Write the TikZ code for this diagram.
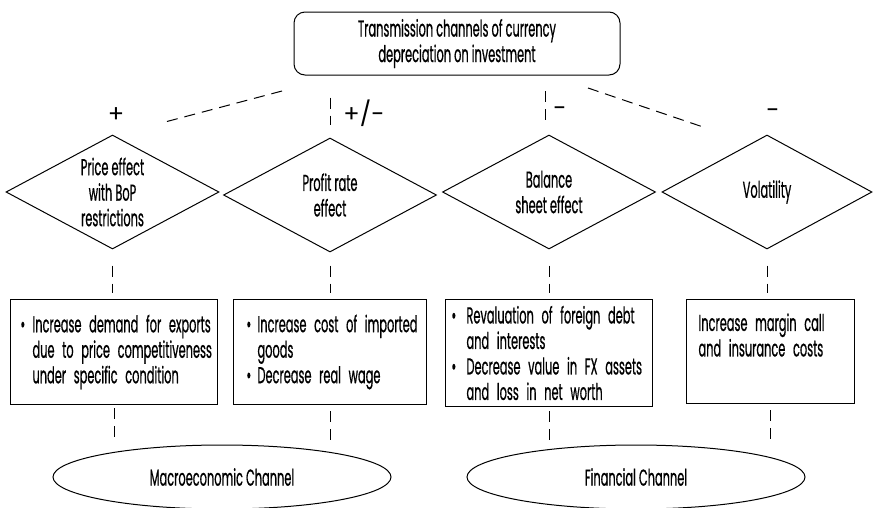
\documentclass[tikz,border=0pt]{standalone}
\usepackage{fontspec}
\setmainfont[FakeStretch=0.495,FakeBold=0.6]{Poppins}
\newfontfamily\signfont{Poppins}
\usetikzlibrary{shapes.geometric}
\begin{document}
\begin{tikzpicture}[x=1pt,y=-1pt,
  every node/.style={font=\fontsize{23}{25.5}\selectfont, inner sep=0pt},
  linkdash/.style={draw, line width=1pt, dash pattern=on 11pt off 7pt},
  titlebox/.style={draw, rounded corners=11pt, line width=1pt, minimum width=326pt, minimum height=63pt, align=center},
  effect/.style={draw, diamond, aspect=1.87, line width=1pt, minimum width=213pt, minimum height=114pt, align=center},
  infobox/.style={draw, rectangle, line width=1pt, align=left, anchor=north west},
  channel/.style={draw, ellipse, line width=1pt, minimum width=338pt, minimum height=64pt},
  signlabel/.style={font=\signfont\fontsize{24}{24}\selectfont}]
\useasboundingbox (0,0) rectangle (874,507);

\node[titlebox] (top) at (457,43.5) {Transmission channels of currency\\depreciation on investment};

\node[effect] (d1) at (112.5,192) {Price effect\\with BoP\\restrictions};
\node[effect] (d2) at (330,195) {Profit rate\\effect};
\node[effect] (d3) at (549,192) {Balance\\sheet effect};
\node[effect, minimum width=210pt] (d4) at (767,192) {Volatility};

\node[signlabel] (s1) at (116,115) {+};
\node[signlabel] (s2) at (364,113) {+/-};
\node[signlabel] (s3) at (560,112) {-};
\node[signlabel] (s4) at (773,114) {-};

\node[infobox, inner xsep=10pt, text width=187pt, minimum height=105pt] (b1) at (10,299)
  {\mbox{\makebox[12pt][l]{•}Increase demand for exports}\\\mbox{\hspace*{12pt}due to price competitiveness}\\\mbox{\hspace*{12pt}under specific condition}};
\node[infobox, inner xsep=13pt, text width=167pt, minimum height=105pt] (b2) at (233,299)
  {\mbox{\makebox[11pt][l]{•}Increase cost of imported}\\\mbox{\hspace*{11pt}goods}\\\mbox{\makebox[11pt][l]{•}Decrease real wage}};
\node[infobox, inner xsep=6pt, text width=195pt, minimum height=107pt] (b3) at (445,299)
  {\mbox{\makebox[15pt][l]{•}Revaluation of foreign debt}\\\mbox{\hspace*{15pt}and interests}\\\mbox{\makebox[15pt][l]{•}Decrease value in FX assets}\\\mbox{\hspace*{15pt}and loss in net worth}};
\node[infobox, inner xsep=12pt, text width=144pt, minimum height=104pt] (b4) at (686,299)
  {\mbox{Increase margin call}\\\mbox{and insurance costs}\\\strut};

\node[channel] (e1) at (222,477) {Macroeconomic Channel};
\node[channel] (e2) at (636,477) {Financial Channel};

% top connectors
\coordinate (l1s) at (282,91);
\coordinate (l1e) at (165,122);
\coordinate (l4s) at (588,88);
\coordinate (l4e) at (706,128);
\coordinate (l3s) at (545,91);
\coordinate (l3e) at (545,120);
\draw[linkdash] (l1s) -- (l1e);
\draw[linkdash] (l4s) -- (l4e);
\draw[linkdash] (l3s) -- (l3e);
\draw[linkdash, shorten <=22pt, shorten >=13pt] (top.south -| d2.north) -- (d2.north);

% diamond to box
\draw[linkdash, shorten <=16pt, shorten >=6pt] (d1.south) -- (d1.south |- b1.north);
\draw[linkdash, shorten <=13pt, shorten >=6pt] (d2.south) -- (d2.south |- b2.north);
\draw[linkdash, shorten <=16pt, shorten >=6pt] (d3.south) -- (d3.south |- b3.north);
\draw[linkdash, shorten <=16pt, shorten >=6pt] (d4.south) -- (d4.south |- b4.north);

% box to channel
\draw[linkdash, shorten <=3pt] (b1.south) -- ++(0,32);
\draw[linkdash, shorten <=6pt] (b2.south) -- ++(0,35);
\draw[linkdash, shorten <=4pt] (b3.south) -- ++(0,33);
\draw[linkdash, shorten <=6pt] (b4.south) -- ++(0,35);
\end{tikzpicture}
\end{document}
